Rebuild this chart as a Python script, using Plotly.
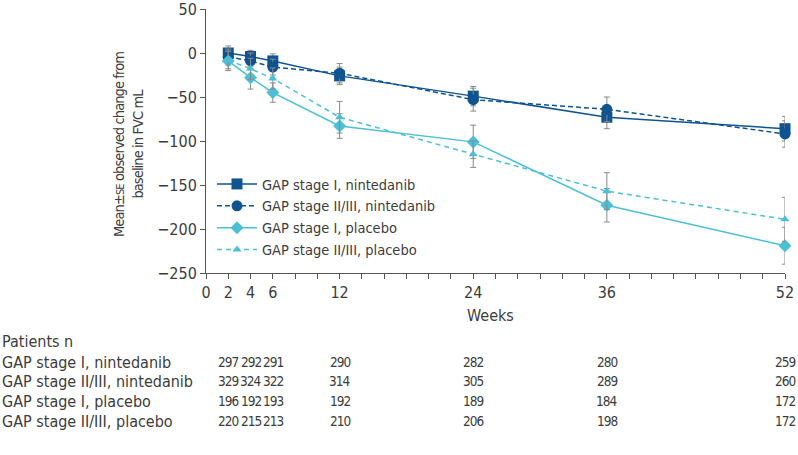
import plotly.graph_objects as go

weeks = [2, 4, 6, 12, 24, 36, 52]
series_names = ["GAP stage I, nintedanib", "GAP stage II/III, nintedanib",
                "GAP stage I, placebo", "GAP stage II/III, placebo"]
s1_nin = [0, -4, -9, -26, -49, -73, -86]
s23_nin = [-4.5, -9, -16, -23, -53, -64, -92]
s1_pla = [-9, -28, -45, -83, -101, -173, -219]
s23_pla = [-8, -18, -29, -73, -115, -157, -189]
s1_nin_se = [8, 7, 8, 10, 11, 13, 14]
s23_nin_se = [9, 9, 9, 11, 13, 14, 15]
s1_pla_se = [11, 13, 11, 14, 19, 19, 21]
s23_pla_se = [10, 12, 12, 18, 15, 21, 25]

n_s1_nin = [297, 292, 291, 290, 282, 280, 259]
n_s23_nin = [329, 324, 322, 314, 305, 289, 260]
n_s1_pla = [196, 192, 193, 192, 189, 184, 172]
n_s23_pla = [220, 215, 213, 210, 206, 198, 172]

x_tick_vals = list(range(0, 53, 2))
x_tick_labels = [str(v) if v in (0, 2, 4, 6, 12, 24, 36, 52) else "" for v in x_tick_vals]
y_tick_vals = [50, 0, -50, -100, -150, -200, -250]

DARK = "#0f5390"
LIGHT = "#4cbfd5"
TXT = "#3c3c3c"
FONT = "DejaVu Sans Condensed, Roboto, sans-serif"

W, H = 798, 455
L, R, T, B = 206, 13, 9, 182
PW, PH = W - L - R, H - T - B

styles = [
    (s1_nin, s1_nin_se, DARK, "solid", "square", 11),
    (s23_nin, s23_nin_se, DARK, "5px,3px", "circle", 11),
    (s1_pla, s1_pla_se, LIGHT, "solid", "diamond", 10),
    (s23_pla, s23_pla_se, LIGHT, "5px,4px", "triangle-up", 8),
]

fig = go.Figure()
for name, (vals, se, col, dash, sym, size) in zip(series_names, styles):
    fig.add_trace(go.Scatter(
        x=weeks, y=vals, name=name, mode="lines+markers",
        line=dict(color=col, width=1.5, dash=dash),
        marker=dict(color=col, symbol=sym, size=size),
        error_y=dict(type="data", array=se, visible=True, color="#8a8a8a",
                     thickness=1, width=3),
        cliponaxis=False,
    ))

annotations = []
def py(pix):
    return (H - B - pix) / PH

def px(pix):
    return (pix - L) / PW

annotations.append(dict(
    text=("<span style='letter-spacing:-0.9px'>Mean±<span style='font-size:11px'>SE</span>"
          " observed change from<br>baseline in FVC mL</span>"),
    xref="paper", yref="paper", x=px(128), y=py(145), textangle=-90,
    showarrow=False, font=dict(family=FONT, size=14.5, color=TXT),
    xanchor="center", yanchor="middle"))
annotations.append(dict(
    text="Weeks", xref="paper", yref="paper", x=px(490), y=py(315),
    showarrow=False, font=dict(family=FONT, size=16, color=TXT),
    xanchor="center", yanchor="middle"))
annotations.append(dict(
    text="Patients n", xref="paper", yref="paper", x=px(0), y=py(342),
    showarrow=False, font=dict(family=FONT, size=16, color=TXT),
    xanchor="left", yanchor="middle"))

rows = [n_s1_nin, n_s23_nin, n_s1_pla, n_s23_pla]
row_y = [362, 381, 401, 421]
for name, counts, ry in zip(series_names, rows, row_y):
    annotations.append(dict(
        text=name, xref="paper", yref="paper", x=px(0), y=py(ry),
        showarrow=False, font=dict(family=FONT, size=16, color=TXT),
        xanchor="left", yanchor="middle"))
    for wk, c in zip(weeks, counts):
        annotations.append(dict(
            text=f"<span style='letter-spacing:-1px'>{c}</span>",
            xref="x", yref="paper", x=wk, y=py(ry),
            showarrow=False, font=dict(family=FONT, size=13.5, color=TXT),
            xanchor="center", yanchor="middle"))

fig.update_layout(
    width=W, height=H,
    margin=dict(l=L, r=R, t=T, b=B, pad=0),
    paper_bgcolor="white", plot_bgcolor="white",
    font=dict(family=FONT, size=15, color=TXT),
    showlegend=True,
    legend=dict(x=px(212), y=py(168), xanchor="left", yanchor="top",
                bgcolor="rgba(0,0,0,0)", font=dict(family=FONT, size=14.5, color=TXT),
                tracegroupgap=0, itemwidth=40),
    xaxis=dict(range=[0, 52], tickvals=x_tick_vals, ticktext=x_tick_labels,
               showgrid=False, zeroline=False, showline=True, linecolor="#555",
               linewidth=1, ticks="outside", ticklen=5, tickcolor="#555",
               tickfont=dict(family=FONT, size=16, color=TXT), automargin=False,
               ticklabeloverflow="allow"),
    yaxis=dict(range=[-250, 50], tickvals=y_tick_vals,
               showgrid=False, zeroline=False, showline=True, linecolor="#555",
               linewidth=1, ticks="outside", ticklen=5, tickcolor="#555",
               tickfont=dict(family=FONT, size=16, color=TXT), automargin=False,
               ticklabeloverflow="allow"),
    annotations=annotations,
)

fig.write_html("out.html",
               config={"displayModeBar": False},
               post_script="document.body.style.margin='0';document.body.style.padding='0';document.body.style.overflow='hidden';")
